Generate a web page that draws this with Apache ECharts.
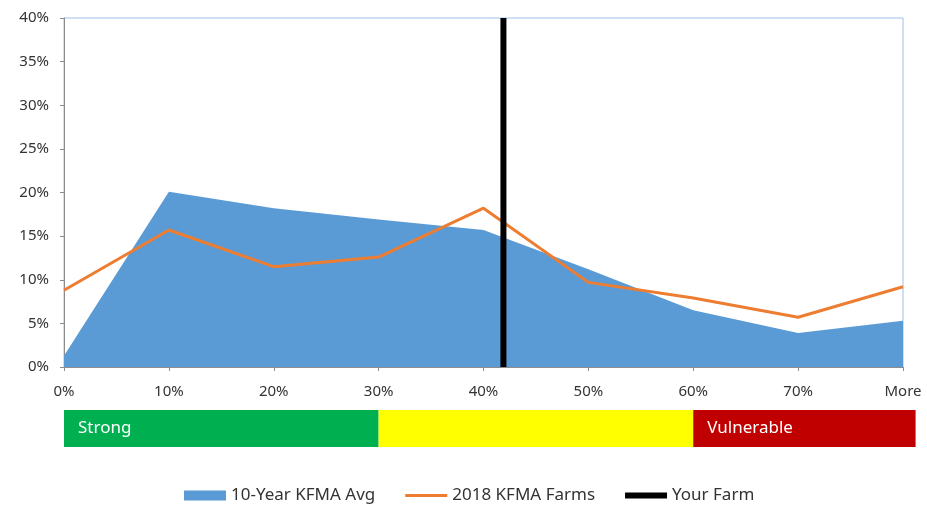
<!DOCTYPE html>
<html>
<head>
  <meta charset="utf-8">
  <title>KFMA chart</title>
  <script src="https://cdn.jsdelivr.net/npm/echarts@6/dist/echarts.min.js"></script>
</head>
<body style="margin:0;background:#fff">
  <div id="main" style="width:927px;height:506px;"></div>
  <script type="text/javascript">
    // chart data
    var xLabels = ['0%', '10%', '20%', '30%', '40%', '50%', '60%', '70%', 'More'];
    var avg10yr = [1.3, 20.1, 18.2, 16.9, 15.7, 11.2, 6.5, 3.9, 5.3];
    var farms2018 = [8.8, 15.7, 11.5, 12.6, 18.2, 9.7, 7.9, 5.7, 9.2];
    var yourFarm = 4.19;      // position on the x scale (about 42%)
    var yMax = 40;
    // coloured rating bands under the axis: [from, to, colour, label]
    var bands = [
      [0, 3, '#00b050', 'Strong'],
      [3, 6, '#ffff00', ''],
      [6, 8.12, '#c00000', 'Vulnerable']
    ];

    var myChart = echarts.init(document.getElementById('main'));

    function pairs(arr) {
      return arr.map(function (v, i) { return [i, v]; });
    }

    var font = 'Noto Sans';

    var option = {
      animation: false,
      textStyle: { fontFamily: font },
      grid: [
        { left: 64, right: 24, top: 18, bottom: 139, show: true, borderColor: '#9cc0e6', borderWidth: 1 },
        { left: 64, right: 24, top: 410, height: 37 }
      ],
      xAxis: [
        {
          type: 'value', gridIndex: 0, min: 0, max: 8, interval: 1,
          axisLine: { show: true, lineStyle: { color: '#8c8c8c', width: 1 } },
          axisTick: { show: true, length: 4, lineStyle: { color: '#8c8c8c' } },
          splitLine: { show: false },
          axisLabel: {
            color: '#333', fontSize: 15, margin: 17,
            formatter: function (v) { return xLabels[v]; }
          }
        },
        { type: 'value', gridIndex: 1, min: 0, max: 8, show: false }
      ],
      yAxis: [
        {
          type: 'value', gridIndex: 0, min: 0, max: yMax, interval: 5,
          axisLine: { show: true, lineStyle: { color: '#8c8c8c', width: 1 } },
          axisTick: { show: true, length: 4, lineStyle: { color: '#8c8c8c' } },
          splitLine: { show: false },
          axisLabel: { color: '#333', fontSize: 15, margin: 15, formatter: '{value}%' }
        },
        { type: 'value', gridIndex: 1, min: 0, max: 1, show: false }
      ],
      legend: {
        left: 179, top: 482,
        itemWidth: 42, itemHeight: 10, itemGap: 30,
        textStyle: { color: '#333', fontSize: 17, fontFamily: font },
        data: [
          { name: '10-Year KFMA Avg', icon: 'rect' },
          { name: '2018 KFMA Farms', icon: 'path://M0,0M0,10M0,3.5h42v3h-42z' },
          { name: 'Your Farm', icon: 'path://M0,0M0,10M0,2h42v6h-42z' }
        ]
      },
      series: [
        {
          name: '10-Year KFMA Avg', type: 'line', data: pairs(avg10yr),
          symbol: 'none', z: 1,
          lineStyle: { width: 0, color: '#5b9bd5' },
          itemStyle: { color: '#5b9bd5' },
          areaStyle: { color: '#5b9bd5', opacity: 1 }
        },
        {
          name: '2018 KFMA Farms', type: 'line', data: pairs(farms2018),
          symbol: 'none', z: 2,
          lineStyle: { width: 3, color: '#ed7d31' },
          itemStyle: { color: '#ed7d31' }
        },
        {
          name: 'Your Farm', type: 'line', data: [[yourFarm, 0], [yourFarm, yMax]],
          symbol: 'none', z: 3,
          lineStyle: { width: 6, color: '#000' },
          itemStyle: { color: '#000' }
        },
        {
          type: 'custom', xAxisIndex: 1, yAxisIndex: 1, clip: false,
          data: bands,
          renderItem: function (params, api) {
            var b = bands[params.dataIndex];
            var p0 = api.coord([b[0], 1]);
            var p1 = api.coord([b[1], 0]);
            return {
              type: 'group',
              children: [
                { type: 'rect', shape: { x: p0[0], y: p0[1], width: p1[0] - p0[0], height: p1[1] - p0[1] }, style: { fill: b[2] } },
                { type: 'text', x: p0[0] + 14, y: (p0[1] + p1[1]) / 2,
                  style: { text: b[3], fill: '#fff', font: '17px "' + font + '"', verticalAlign: 'middle' } }
              ]
            };
          }
        }
      ]
    };

    myChart.setOption(option);
  </script>
</body>
</html>
